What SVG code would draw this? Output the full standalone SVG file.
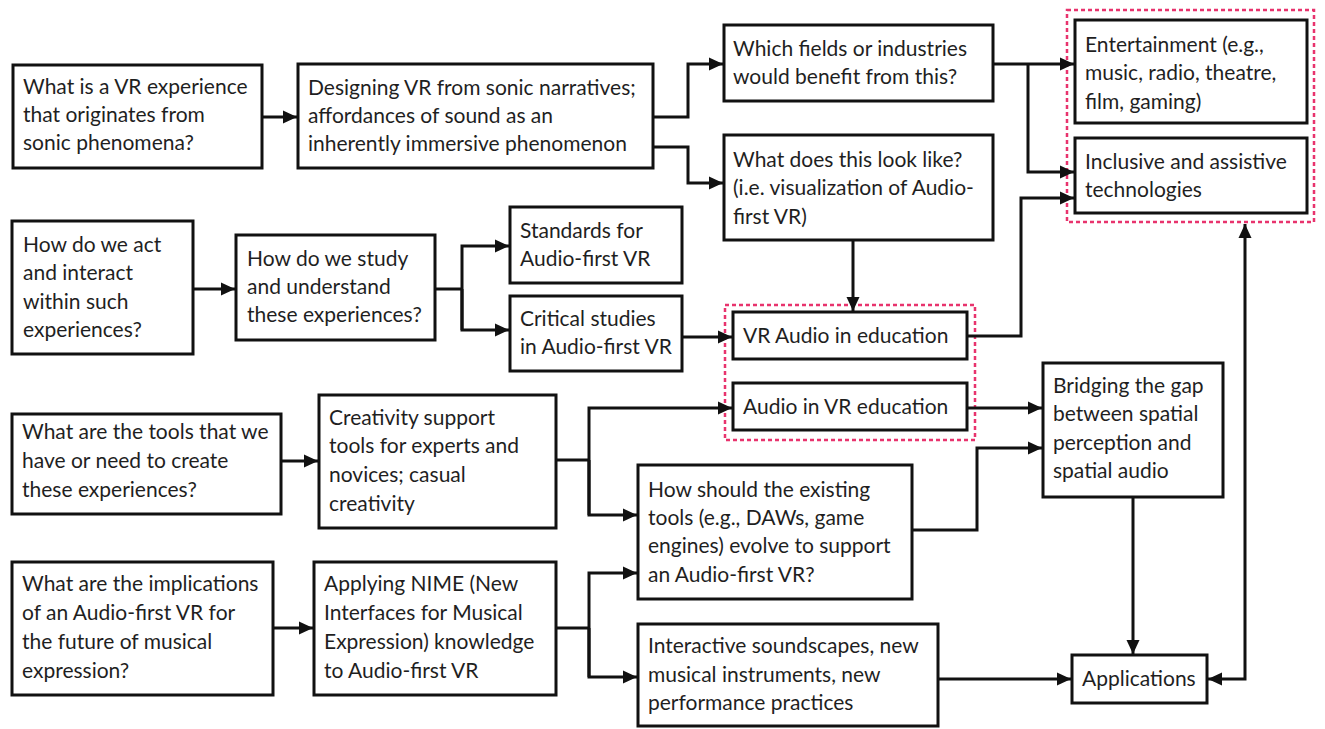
<svg xmlns="http://www.w3.org/2000/svg" width="1325" height="729" viewBox="0 0 1325 729">
  <defs>
    <style>
      .box { fill: #ffffff; stroke: #111111; stroke-width: 3; }
      .lbl { font-family: Lato, "Noto Sans", "Liberation Sans", sans-serif; font-size: 21px; fill: #1f1f1f; }
      .wire { fill: none; stroke: #111111; stroke-width: 3; }
      .grp { fill: none; stroke: #e8336d; stroke-width: 2.5; stroke-dasharray: 4 3; }
    </style>
    <marker id="arrow" viewBox="0 0 14 14" refX="14" refY="7" markerWidth="14" markerHeight="14" markerUnits="userSpaceOnUse" orient="auto-start-reverse">
      <path d="M0,0.5 L14,7 L0,13.5 z" fill="#111111"/>
    </marker>
  </defs>
  <rect width="1325" height="729" fill="#ffffff"/>

  <!-- dotted grouping frames -->
  <rect class="grp" x="1067" y="10" width="247" height="212"/>
  <rect class="grp" x="725" y="305" width="250" height="135"/>

  <!-- connectors -->
  <g id="connectors">
    <path class="wire" d="M262,117 H297" marker-end="url(#arrow)"/>
    <path class="wire" d="M653,117 H688 V64 H723" marker-end="url(#arrow)"/>
    <path class="wire" d="M653,147 H688 V183 H723" marker-end="url(#arrow)"/>
    <path class="wire" d="M993,64 H1074" marker-end="url(#arrow)"/>
    <path class="wire" d="M1028,64 V172 H1074" marker-end="url(#arrow)"/>
    <path class="wire" d="M853,240 V311" marker-end="url(#arrow)"/>
    <path class="wire" d="M193,289 H235" marker-end="url(#arrow)"/>
    <path class="wire" d="M435,289 H462"/>
    <path class="wire" d="M462,330 V246 H509" marker-end="url(#arrow)"/>
    <path class="wire" d="M462,289 V330 H509" marker-end="url(#arrow)"/>
    <path class="wire" d="M682,337 H732" marker-end="url(#arrow)"/>
    <path class="wire" d="M967,336 H1021 V198 H1074" marker-end="url(#arrow)"/>
    <path class="wire" d="M281,461 H318" marker-end="url(#arrow)"/>
    <path class="wire" d="M556,460 H589"/>
    <path class="wire" d="M589,515 V408 H732" marker-end="url(#arrow)"/>
    <path class="wire" d="M589,460 V515 H637" marker-end="url(#arrow)"/>
    <path class="wire" d="M967,408 H1042" marker-end="url(#arrow)"/>
    <path class="wire" d="M912,530 H977 V448 H1042" marker-end="url(#arrow)"/>
    <path class="wire" d="M273,628 H313" marker-end="url(#arrow)"/>
    <path class="wire" d="M556,628 H589"/>
    <path class="wire" d="M589,677 V573 H637" marker-end="url(#arrow)"/>
    <path class="wire" d="M589,628 V677 H637" marker-end="url(#arrow)"/>
    <path class="wire" d="M938,679 H1071" marker-end="url(#arrow)"/>
    <path class="wire" d="M1133,497 V654" marker-end="url(#arrow)"/>
    <path class="wire" d="M1208,679 H1245 V224" marker-start="url(#arrow)" marker-end="url(#arrow)"/>
  </g>

  <!-- nodes -->
  <g id="n-origin">
    <rect class="box" x="13" y="65" width="249" height="103"/>
    <text class="lbl" x="23" y="94">What is a VR experience</text>
    <text class="lbl" x="23" y="122">that originates from</text>
    <text class="lbl" x="23" y="150">sonic phenomena?</text>
  </g>
  <g id="n-designing">
    <rect class="box" x="298" y="64" width="355" height="104"/>
    <text class="lbl" x="308" y="95">Designing VR from sonic narratives;</text>
    <text class="lbl" x="308" y="123">affordances of sound as an</text>
    <text class="lbl" x="308" y="151">inherently immersive phenomenon</text>
  </g>
  <g id="n-fields">
    <rect class="box" x="724" y="25" width="269" height="76"/>
    <text class="lbl" x="733" y="56">Which fields or industries</text>
    <text class="lbl" x="733" y="84">would benefit from this?</text>
  </g>
  <g id="n-look">
    <rect class="box" x="724" y="135" width="269" height="105"/>
    <text class="lbl" x="733" y="167">What does this look like?</text>
    <text class="lbl" x="733" y="195">(i.e. visualization of Audio-</text>
    <text class="lbl" x="733" y="224">first VR)</text>
  </g>
  <g id="n-entertainment">
    <rect class="box" x="1075" y="20" width="232" height="103"/>
    <text class="lbl" x="1085" y="52">Entertainment (e.g.,</text>
    <text class="lbl" x="1085" y="80">music, radio, theatre,</text>
    <text class="lbl" x="1085" y="109">film, gaming)</text>
  </g>
  <g id="n-inclusive">
    <rect class="box" x="1075" y="138" width="232" height="75"/>
    <text class="lbl" x="1085" y="169">Inclusive and assistive</text>
    <text class="lbl" x="1085" y="197">technologies</text>
  </g>
  <g id="n-act">
    <rect class="box" x="12" y="221" width="181" height="133"/>
    <text class="lbl" x="23" y="252">How do we act</text>
    <text class="lbl" x="23" y="280">and interact</text>
    <text class="lbl" x="23" y="309">within such</text>
    <text class="lbl" x="23" y="337">experiences?</text>
  </g>
  <g id="n-study">
    <rect class="box" x="236" y="235" width="199" height="105"/>
    <text class="lbl" x="247" y="266">How do we study</text>
    <text class="lbl" x="247" y="294">and understand</text>
    <text class="lbl" x="247" y="322">these experiences?</text>
  </g>
  <g id="n-standards">
    <rect class="box" x="510" y="207" width="172" height="76"/>
    <text class="lbl" x="520" y="238">Standards for</text>
    <text class="lbl" x="520" y="266">Audio-first VR</text>
  </g>
  <g id="n-critical">
    <rect class="box" x="510" y="296" width="172" height="75"/>
    <text class="lbl" x="520" y="326">Critical studies</text>
    <text class="lbl" x="520" y="354">in Audio-first VR</text>
  </g>
  <g id="n-vr-audio-edu">
    <rect class="box" x="733" y="312" width="234" height="47"/>
    <text class="lbl" x="743" y="343">VR Audio in education</text>
  </g>
  <g id="n-audio-vr-edu">
    <rect class="box" x="733" y="383" width="234" height="47"/>
    <text class="lbl" x="743" y="414">Audio in VR education</text>
  </g>
  <g id="n-tools">
    <rect class="box" x="12" y="414" width="269" height="100"/>
    <text class="lbl" x="22" y="439">What are the tools that we</text>
    <text class="lbl" x="22" y="468">have or need to create</text>
    <text class="lbl" x="22" y="497">these experiences?</text>
  </g>
  <g id="n-creativity">
    <rect class="box" x="319" y="395" width="237" height="133"/>
    <text class="lbl" x="329" y="425">Creativity support</text>
    <text class="lbl" x="329" y="453">tools for experts and</text>
    <text class="lbl" x="329" y="482">novices; casual</text>
    <text class="lbl" x="329" y="511">creativity</text>
  </g>
  <g id="n-existing-tools">
    <rect class="box" x="638" y="465" width="274" height="134"/>
    <text class="lbl" x="648" y="497">How should the existing</text>
    <text class="lbl" x="648" y="525">tools (e.g., DAWs, game</text>
    <text class="lbl" x="648" y="553">engines) evolve to support</text>
    <text class="lbl" x="648" y="582">an Audio-first VR?</text>
  </g>
  <g id="n-bridging">
    <rect class="box" x="1043" y="363" width="180" height="134"/>
    <text class="lbl" x="1053" y="393">Bridging the gap</text>
    <text class="lbl" x="1053" y="421">between spatial</text>
    <text class="lbl" x="1053" y="450">perception and</text>
    <text class="lbl" x="1053" y="478">spatial audio</text>
  </g>
  <g id="n-implications">
    <rect class="box" x="12" y="562" width="261" height="133"/>
    <text class="lbl" x="22" y="591">What are the implications</text>
    <text class="lbl" x="22" y="620">of an Audio-first VR for</text>
    <text class="lbl" x="22" y="649">the future of musical</text>
    <text class="lbl" x="22" y="678">expression?</text>
  </g>
  <g id="n-nime">
    <rect class="box" x="314" y="562" width="242" height="133"/>
    <text class="lbl" x="324" y="591">Applying NIME (New</text>
    <text class="lbl" x="324" y="620">Interfaces for Musical</text>
    <text class="lbl" x="324" y="649">Expression) knowledge</text>
    <text class="lbl" x="324" y="678">to Audio-first VR</text>
  </g>
  <g id="n-interactive">
    <rect class="box" x="638" y="624" width="300" height="102"/>
    <text class="lbl" x="648" y="653">Interactive soundscapes, new</text>
    <text class="lbl" x="648" y="682">musical instruments, new</text>
    <text class="lbl" x="648" y="710">performance practices</text>
  </g>
  <g id="n-applications">
    <rect class="box" x="1072" y="655" width="135" height="48"/>
    <text class="lbl" x="1082" y="686">Applications</text>
  </g>
</svg>
